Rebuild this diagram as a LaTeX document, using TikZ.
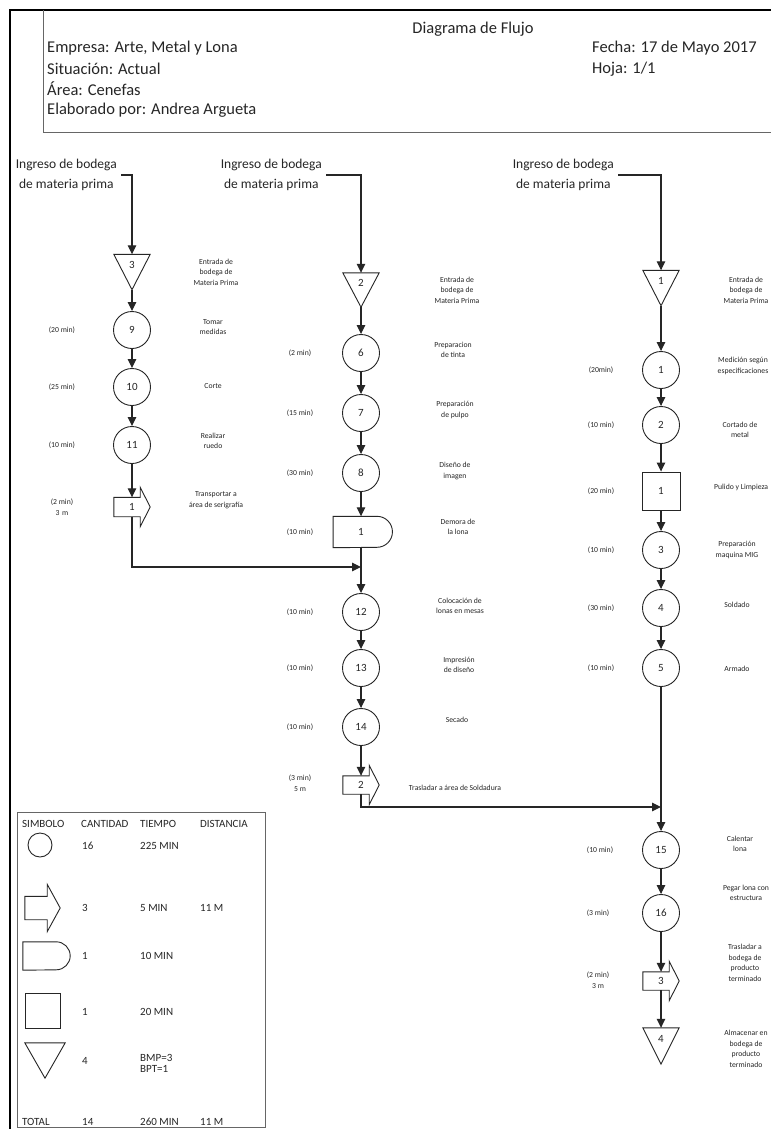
\documentclass[tikz,border=0pt]{standalone}
\usepackage{fontspec}
\setmainfont{Carlito}
\usetikzlibrary{arrows.meta}
\newcommand{\tnum}[1]{\smash{\raisebox{4pt}{#1}}}
\newcommand{\pnum}[1]{\makebox[0pt]{\hspace{10pt}#1}}
\tikzset{
  flow/.style={draw=black!85, line width=1.1pt},
  arr/.style={flow, -{Triangle[length=9pt,width=8.5pt]}},
  shp/.style={draw=black!85, line width=0.9pt},
  txt/.style={text=black!85, inner sep=1pt, align=center},
  sm/.style={txt, font=\fontsize{7.7}{10.5}\selectfont},
  hd/.style={txt, inner sep=0pt, font=\fontsize{16.5}{20}\selectfont},
  ing/.style={txt, inner xsep=4pt, font=\fontsize{13.5}{20}\selectfont},
  lg/.style={txt, anchor=west, inner sep=0pt, align=left, font=\fontsize{11}{11}\selectfont},
  opc/.style={circle, shp, minimum size=37pt, inner sep=0pt, text=black!85, font=\fontsize{11}{13}\selectfont},
  sq/.style={rectangle, shp, minimum size=#1, inner sep=0pt, text=black!85, font=\fontsize{11}{13}\selectfont},
  tri/.style 2 args={minimum width=#1, minimum height=#2, inner sep=0pt, text=black!85, font=\fontsize{11}{13}\selectfont,
    append after command={\pgfextra{\draw[shp] (\tikzlastnode.north west) -- (\tikzlastnode.north east) -- (\tikzlastnode.south) -- cycle;}}},
  demora/.style 2 args={minimum width=#1, minimum height=#2, inner sep=0pt, text=black!85, font=\fontsize{11}{13}\selectfont,
    append after command={\pgfextra{\draw[shp] (\tikzlastnode.south west) -- (\tikzlastnode.north west) -- (\tikzlastnode.north east) arc[start angle=90, end angle=-90, radius=#2/2] -- cycle;}}},
  transp/.style n args={4}{minimum width=#1, minimum height=#2, inner sep=0pt, text=black!85, font=\fontsize{11}{13}\selectfont,
    append after command={\pgfextra{\draw[shp] (\tikzlastnode.south west) -- (\tikzlastnode.north west) -- (\tikzlastnode.north east) -- ++(0,#3) -- ([xshift=#4]\tikzlastnode.east) -- ([yshift=-#3]\tikzlastnode.south east) -- (\tikzlastnode.south east) -- cycle;}}},
}
\begin{document}
\begin{tikzpicture}[x=1pt, y=1pt]
\useasboundingbox (0,0) rectangle (771,-1129);
\fill[white] (0,0) rectangle (771,-1129);
% frame
\draw[black, line width=1.8pt] (10,-1129) -- (10,-10);
\draw[black, line width=2.6pt] (9,-10) -- (771,-10);
\draw[black!60, line width=1pt] (43,-10) -- (43,-133) -- (771,-133);
% header
\node[hd] (title) at (473,-29) {Diagrama de Flujo};
\node[hd, anchor=west] (emp) at (47,-48) {Empresa: Arte, Metal y Lona};
\node[hd, anchor=west] (sit) at (47,-69) {Situación: Actual};
\node[hd, anchor=west] (area) at (47,-89) {Área: Cenefas};
\node[hd, anchor=west] (elab) at (47,-110) {Elaborado por: Andrea Argueta};
\node[hd, anchor=west] (fecha) at (592,-48) {Fecha: 17 de Mayo 2017};
\node[hd, anchor=west] (hoja) at (592,-69) {Hoja: 1/1};

% ---------- column A ----------
\node[ing, anchor=east] (ingA) at (121,-175) {Ingreso de bodega\\de materia prima};
\node[tri={36pt}{35pt}] (tA3) at (132,-272) {\tnum{3}};
\node[opc] (cA9) at (132,-330) {9};
\node[opc] (cA10) at (132,-387) {10};
\node[opc] (cA11) at (132,-445) {11};
\node[transp={26pt}{19pt}{10pt}{10pt}] (trA1) at (127,-507) {\pnum{1}};
\coordinate (jAB) at (361,-567);
\draw[arr] (ingA.east) -| (tA3.north);
\draw[arr] (tA3.south) -- (cA9.north);
\draw[arr] (cA9.south) -- (cA10.north);
\draw[arr] (cA10.south) -- (cA11.north);
\draw[arr] (cA11.south) -- (trA1.north -| cA11);
\draw[arr] (trA1.south -| cA11) |- (jAB);
\node[sm] (lA9) at (62,-330) {(20 min)};
\node[sm] (lA10) at (62,-387) {(25 min)};
\node[sm] (lA11) at (62,-445) {(10 min)};
\node[sm] (lA12) at (62,-507) {(2 min)\\3\,\,m};
\node[sm] (dA3) at (216,-272) {Entrada de\\bodega de\\Materia Prima};
\node[sm] (dA9) at (213,-327) {Tomar\\medidas};
\node[sm] (dA10) at (213,-386) {Corte};
\node[sm] (dA11) at (213,-441) {Realizar\\ruedo};
\node[sm] (dA12) at (216,-500) {Transportar a\\área de serigrafía};

% ---------- column B ----------
\node[ing, anchor=east] (ingB) at (326,-175) {Ingreso de bodega\\de materia prima};
\node[tri={36pt}{34pt}] (tB2) at (361,-290) {\tnum{2}};
\node[opc] (cB6) at (361,-353) {6};
\node[opc] (cB7) at (361,-413) {7};
\node[opc] (cB8) at (361,-473) {8};
\node[demora={43.5pt}{31pt}] (dB1) at (355,-532) {\makebox[0pt]{\hspace{12pt}1}};
\node[opc] (cB12) at (361,-612) {12};
\node[opc] (cB13) at (361,-668) {13};
\node[opc] (cB14) at (361,-727) {14};
\node[transp={26pt}{18pt}{10.5pt}{10pt}] (trB2) at (356,-785) {\pnum{2}};
\coordinate (jBC) at (661,-807);
\draw[arr] (ingB.east) -| (tB2.north);
\draw[arr] (tB2.south) -- (cB6.north);
\draw[arr] (cB6.south) -- (cB7.north);
\draw[arr] (cB7.south) -- (cB8.north);
\draw[arr] (cB8.south) -- (dB1.north -| cB8);
\draw[arr] (dB1.south -| cB8) -- (cB12.north);
\draw[arr] (cB12.south) -- (cB13.north);
\draw[arr] (cB13.south) -- (cB14.north);
\draw[arr] (cB14.south) -- (trB2.north -| cB14);
\draw[arr] (trB2.south -| cB14) |- (jBC);
\node[sm] (lB6) at (300,-353) {(2 min)};
\node[sm] (lB7) at (300,-413) {(15 min)};
\node[sm] (lB8) at (300,-473) {(30 min)};
\node[sm] (lB9) at (300,-532) {(10 min)};
\node[sm] (lB12) at (300,-612) {(10 min)};
\node[sm] (lB13) at (300,-668) {(10 min)};
\node[sm] (lB14) at (300,-727) {(10 min)};
\node[sm] (lB15) at (300,-783) {(3 min)\\5 m};
\node[sm] (dB2) at (457,-290) {Entrada de\\bodega de\\Materia Prima};
\node[sm] (dB6) at (453,-350) {Preparacion\\de tinta};
\node[sm] (dB7) at (455,-410) {Preparación\\de pulpo};
\node[sm] (dB8) at (455,-471) {Diseño de\\imagen};
\node[sm] (dB9) at (458,-527) {Demora de\\la lona};
\node[sm] (dB12) at (460,-606) {Colocación de\\lonas en mesas};
\node[sm] (dB13) at (459,-665) {Impresión\\de diseño};
\node[sm] (dB14) at (457,-720) {Secado};
\node[sm] (dB15) at (455,-788) {Trasladar a área de Soldadura};

% ---------- column C ----------
\node[ing, anchor=east] (ingC) at (618,-175) {Ingreso de bodega\\de materia prima};
\node[tri={36pt}{35pt}] (tC1) at (661,-288) {\tnum{1}};
\node[opc] (cC1) at (661,-370) {1};
\node[opc] (cC2) at (661,-425) {2};
\node[sq=38pt] (sqC1) at (661,-491) {1};
\node[opc] (cC3) at (661,-550) {3};
\node[opc] (cC4) at (661,-608) {4};
\node[opc] (cC5) at (661,-668) {5};
\node[opc] (cC15) at (661,-850) {15};
\node[opc] (cC16) at (661,-913) {16};
\node[transp={26pt}{18pt}{10.5pt}{10pt}] (trC3) at (656,-981) {\pnum{3}};
\node[tri={36pt}{36pt}] (tC4) at (661,-1046) {\tnum{4}};
\draw[arr] (ingC.east) -| (tC1.north);
\draw[arr] (tC1.south) -- (cC1.north);
\draw[arr] (cC1.south) -- (cC2.north);
\draw[arr] (cC2.south) -- (sqC1.north);
\draw[arr] (sqC1.south) -- (cC3.north);
\draw[arr] (cC3.south) -- (cC4.north);
\draw[arr] (cC4.south) -- (cC5.north);
\draw[flow] (cC5.south) -- (jBC);
\draw[arr] (jBC) -- (cC15.north);
\draw[arr] (cC15.south) -- (cC16.north);
\draw[arr] (cC16.south) -- (trC3.north -| cC16);
\draw[arr] (trC3.south -| cC16) -- (tC4.north);
\node[sm] (lC1) at (601,-370) {(20min)};
\node[sm] (lC2) at (601,-425) {(10 min)};
\node[sm] (lC3) at (601,-491) {(20 min)};
\node[sm] (lC4) at (601,-550) {(10 min)};
\node[sm] (lC5) at (601,-608) {(30 min)};
\node[sm] (lC6) at (601,-668) {(10 min)};
\node[sm] (lC15) at (600,-850) {(10 min)};
\node[sm] (lC16) at (598,-913) {(3 min)};
\node[sm] (lC17) at (598,-980) {(2 min)\\3 m};
\node[sm] (dC1) at (746,-290) {Entrada de\\bodega de\\Materia Prima};
\node[sm] (dC2) at (743,-366) {Medición según\\especificaciones};
\node[sm] (dC3) at (740,-430) {Cortado de\\metal};
\node[sm, anchor=west] (dC4) at (713,-487) {Pulido y Limpieza};
\node[sm] (dC5) at (737,-550) {Preparación\\maquina MIG};
\node[sm] (dC6) at (737,-605) {Soldado};
\node[sm] (dC7) at (737,-669) {Armado};
\node[sm] (dC15) at (740,-844) {Calentar\\lona};
\node[sm] (dC16) at (746,-893) {Pegar lona con\\estructura};
\node[sm] (dC17) at (745,-963) {Trasladar a\\bodega de\\producto\\terminado};
\node[sm] (dC18) at (746,-1049) {Almacenar en\\bodega de\\producto\\terminado};

% ---------- legend ----------
\draw[black!60, line width=1pt] (17,-812) rectangle (265,-1127);
\node[lg] (hS) at (22,-824) {SIMBOLO};
\node[lg] (hC) at (81,-824) {CANTIDAD};
\node[lg] (hT) at (140,-824) {TIEMPO};
\node[lg] (hD) at (200,-824) {DISTANCIA};
\node[opc, minimum size=24pt] (lgC) at (40,-845) {};
\node[transp={22pt}{23pt}{12pt}{13pt}] (lgT) at (36,-908) {};
\node[demora={33pt}{28pt}] (lgD) at (39.5,-956) {};
\node[sq=35pt] (lgS) at (43,-1010.5) {};
\node[tri={40pt}{35pt}] (lgTr) at (45,-1060.5) {};
\node[lg] (q1) at (82,-846) {16};
\node[lg] (t1) at (140,-846) {225 MIN};
\node[lg] (q2) at (82,-908) {3};
\node[lg] (t2) at (140,-908) {5 MIN};
\node[lg] (d2) at (200,-908) {11 M};
\node[lg] (q3) at (82,-956) {1};
\node[lg] (t3) at (140,-956) {10 MIN};
\node[lg] (q4) at (82,-1012) {1};
\node[lg] (t4) at (140,-1012) {20 MIN};
\node[lg] (q5) at (82,-1061) {4};
\node[lg] (t5) at (140,-1063) {BMP=3\\BPT=1};
\node[lg] (qT) at (22,-1122) {TOTAL};
\node[lg] (q6) at (82,-1122) {14};
\node[lg] (t6) at (140,-1122) {260 MIN};
\node[lg] (d6) at (200,-1122) {11 M};
\end{tikzpicture}
\end{document}
